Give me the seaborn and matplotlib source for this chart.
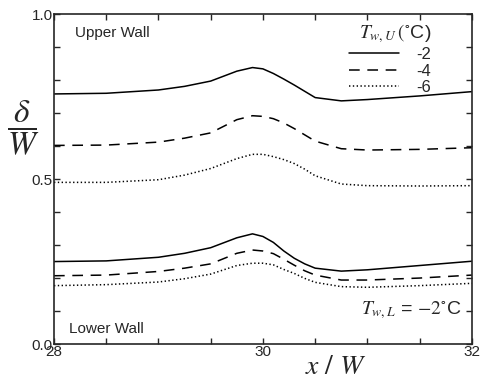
import numpy as np
import pandas as pd
import matplotlib
matplotlib.use("Agg")
import matplotlib.pyplot as plt
import seaborn as sns
from matplotlib.lines import Line2D
from matplotlib.ticker import MultipleLocator, FixedLocator

# streamwise positions (x / W)
x_pos = [28.0, 28.5, 29.0, 29.25, 29.5, 29.75, 29.9, 30.0, 30.1, 30.2, 30.3, 30.4, 30.5,
         30.75, 31.0, 31.5, 32.0]

# upper wall thickness for T_w,U = -2, -4, -6 C
upper_m2 = [0.758, 0.760, 0.770, 0.781, 0.797, 0.827, 0.838, 0.834, 0.820, 0.803, 0.785,
            0.766, 0.747, 0.737, 0.741, 0.752, 0.765]
upper_m4 = [0.602, 0.603, 0.612, 0.624, 0.640, 0.680, 0.692, 0.690, 0.683, 0.670, 0.653,
            0.634, 0.615, 0.592, 0.588, 0.590, 0.595]
upper_m6 = [0.490, 0.490, 0.498, 0.512, 0.532, 0.562, 0.575, 0.575, 0.568, 0.559, 0.547,
            0.530, 0.510, 0.485, 0.480, 0.479, 0.480]

# lower wall thickness (T_w,L = -2 C)
lower_m2 = [0.250, 0.252, 0.263, 0.275, 0.292, 0.322, 0.334, 0.326, 0.308, 0.282, 0.260,
            0.243, 0.230, 0.221, 0.225, 0.238, 0.251]
lower_m4 = [0.207, 0.209, 0.220, 0.230, 0.243, 0.275, 0.285, 0.282, 0.274, 0.257, 0.239,
            0.222, 0.209, 0.194, 0.194, 0.200, 0.209]
lower_m6 = [0.177, 0.180, 0.188, 0.198, 0.212, 0.238, 0.245, 0.245, 0.240, 0.226, 0.214,
            0.199, 0.187, 0.174, 0.172, 0.177, 0.184]

temps = ["-2", "-4", "-6"]

sns.set_style("ticks")
plt.rcParams["font.family"] = ["Liberation Sans", "DejaVu Sans"]
plt.rcParams["mathtext.fontset"] = "stix"

styles = {"-2": "-", "-4": (0, (7, 5)), "-6": (0, (0.9, 1.6))}

fig = plt.figure(figsize=(4.82, 3.81), dpi=100)
ax = fig.add_axes([0.112, 0.097, 0.867, 0.866])

for t, up, lo in zip(temps, [upper_m2, upper_m4, upper_m6], [lower_m2, lower_m4, lower_m6]):
    for vals in (up, lo):
        sns.lineplot(x=x_pos, y=vals, ax=ax, color="black", linewidth=1.1,
                     linestyle=styles[t], legend=False)

ax.set_xlim(28, 32)
ax.set_ylim(0, 1)
ax.xaxis.set_major_locator(FixedLocator([28, 30, 32]))
ax.xaxis.set_minor_locator(MultipleLocator(0.5))
ax.yaxis.set_major_locator(FixedLocator([0.0, 0.5, 1.0]))
ax.yaxis.set_minor_locator(MultipleLocator(0.1))
ax.set_yticklabels(["0.0", "0.5", "1.0"])
ax.tick_params(which="both", direction="in", top=True, right=True, length=4, width=1,
               labelsize=11, pad=1)
for s in ax.spines.values():
    s.set_linewidth(1.2)

ax.set_xlabel(r"$x\ /\ W$", fontsize=20, va="center")
ax.xaxis.set_label_coords(0.675, -0.07)
ax.set_ylabel(r"$\dfrac{\delta}{W}$", fontsize=24, rotation=0, va="center")
ax.yaxis.set_label_coords(-0.075, 0.655)

ax.text(0.05, 0.965, "Upper Wall", transform=ax.transAxes, fontsize=11, va="top")
ax.text(0.037, 0.025, "Lower Wall", transform=ax.transAxes, fontsize=11, va="bottom")
ax.text(0.975, 0.07, r"$T_{w,L}$ = $-2^{\circ}$C", transform=ax.transAxes,
        fontsize=14, ha="right", va="bottom")

handles = [Line2D([], [], color="black", linewidth=1.1, linestyle=styles[t]) for t in temps]
leg = ax.legend(handles, temps, title=r"$T_{w,U}\,(^{\circ}$C)", frameon=False,
                loc="upper right", bbox_to_anchor=(0.93, 1.01), fontsize=12,
                title_fontsize=14, handlelength=3.0, handletextpad=1.0,
                labelspacing=0.1, borderpad=0.2)
leg._legend_box.align = "right"

fig.savefig("out.png", dpi=100)
